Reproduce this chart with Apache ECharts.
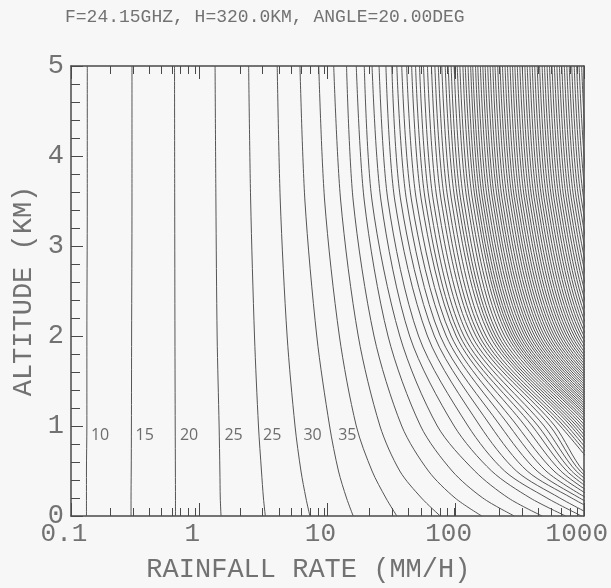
<!DOCTYPE html>
<html><head><meta charset="utf-8">
<script src="https://cdn.jsdelivr.net/npm/echarts@6/dist/echarts.min.js"></script>
<style>html,body{margin:0;padding:0;background:#f7f7f7}#c{width:611px;height:588px}</style>
</head><body><div id="c"></div>
<script>
// altitude (km) of each sample, top to bottom
const altitudes = [5, 3.5, 2, 1, 0.5, 0.2, 0];

// rainfall rate (mm/h) of each contour at those altitudes
const labelledContours = [
  [0.134, 0.134, 0.133, 0.133, 0.132, 0.132, 0.132],
  [0.299, 0.299, 0.297, 0.296, 0.295, 0.294, 0.294],
  [0.642, 0.644, 0.647, 0.650, 0.652, 0.653, 0.653],
  [1.33, 1.35, 1.38, 1.43, 1.45, 1.46, 1.48],
  [2.43, 2.52, 2.70, 2.90, 3.06, 3.17, 3.28],
  [4.06, 4.29, 4.85, 5.59, 6.22, 6.80, 7.30],
  [6.11, 6.68, 8.26, 10.4, 12.2, 14.1, 15.9]
];
const middleContours = [
  [8.56, 9.52, 12.4, 16.8, 22.3, 28.6, 34.8],
  [11.2, 12.7, 17.4, 25.7, 36.7, 54.2, 75.9],
  [14.1, 15.9, 23.1, 38.0, 61.4, 99.1, 160],
  [16.8, 19.4, 29.7, 53.3, 94.0, 163, 287],
  [19.4, 22.3, 36.7, 72.0, 141, 258, 473],
  [22.3, 26.2, 43.8, 97.4, 191, 382, 723],
  [25.3, 29.7, 51.4, 125, 241, 516, 961],
  [28.6, 33.6, 60.3, 155, 298, 650, 1190],
  [31.8, 37.4, 68.3, 188, 362, 804, 1470],
  [34.8, 41.5, 75.9, 224, 432, 927, 1700],
  [38.0, 45.4, 84.5, 263, 507, 1050],
  [41.5, 49.6, 92.3, 303, 585, 1190],
  [45.4, 54.2, 101, 349, 662, 1300],
  [48.7, 58.2, 108, 396, 737, 1420],
  [52.3, 62.5, 116, 440, 804, 1550],
  [56.2, 67.1, 125, 490, 872, 1700],
  [60.3, 72.0, 134, 545, 936, 1850],
  [64.8, 77.3, 144, 595, 996, 1950]
];
const denseContours = [
  [68.9, 82.3, 153, 656, 1288],
  [73.3, 87.6, 163, 698, 1370],
  [78.0, 93.2, 173, 743, 1458],
  [83.0, 99.1, 185, 791, 1551],
  [87.6, 104.5, 195, 834, 1636],
  [92.3, 110, 205, 880, 1726],
  [97.4, 116, 216, 927, 1820],
  [103, 123, 228, 978, 1920],
  [108, 129, 241, 1031, 2025],
  [114, 136, 254, 1088, 2136],
  [119, 143, 266, 1137, 2233],
  [125, 149, 278, 1200, 2335],
  [131, 156, 290, 1254, 2441],
  [136, 163, 303, 1311, 2552],
  [143, 170, 317, 1371, 2668],
  [149, 178, 331, 1433, 2789],
  [156, 186, 347, 1498, 2916],
  [163, 195, 362, 1566, 3048],
  [170, 203, 379, 1637, 3186],
  [178, 213, 396, 1711, 3331],
  [186, 222, 414, 1789, 3482],
  [195, 232, 433, 1870, 3640],
  [203, 243, 452, 1955, 3805],
  [213, 254, 473, 2044, 3978],
  [222, 266, 494, 2137, 4158],
  [232, 278, 517, 2234, 4347],
  [243, 290, 540, 2335, 4544],
  [254, 303, 565, 2441, 4746],
  [266, 317, 590, 2552, 4962],
  [278, 331, 617, 2668, 5186],
  [290, 347, 645, 2789, 5422],
  [303, 362, 674, 2916, 5668],
  [317, 379, 705, 3048, 5925],
  [331, 396, 737, 3186, 6194],
  [347, 414, 770, 3331, 6475],
  [362, 433, 805, 3482, 6768],
  [379, 452, 842, 3640, 7075],
  [396, 473, 880, 3805, 7396],
  [414, 494, 920, 3978, 7732],
  [433, 517, 962, 4158, 8082],
  [452, 540, 1005, 4347, 8449],
  [473, 565, 1050, 4544, 8833],
  [494, 590, 1098, 4746, 9233],
  [517, 617, 1148, 4962, 9652],
  [540, 645, 1200, 5186, 10090],
  [565, 674, 1254, 5422, 10550],
  [590, 705, 1311, 5668, 11030],
  [617, 737, 1371, 5925, 11530],
  [645, 770, 1433, 6194, 12050],
  [674, 805, 1498, 6475, 12600],
  [705, 842, 1566, 6768, 13170],
  [737, 880, 1637, 7075, 13760],
  [770, 920, 1711, 7396, 14390],
  [805, 962, 1789, 7732, 15040],
  [842, 1005, 1870, 8082, 15720],
  [880, 1050, 1955, 8449, 16440],
  [920, 1098, 2044, 8833, 17180],
  [962, 1148, 2137, 9233, 17960]
];

const contourLabels = ['10', '15', '20', '25', '25', '30', '35'];
const contourLabelRates = [0.132, 0.294, 0.653, 1.45, 2.90, 6.00, 11.2];
const contourLabelAltitude = 0.9;

const xMajorTicks = [0.1, 1, 10, 100, 1000];
const xTickLabels = ['0.1', '1', '10', '100', '1000'];
const xMinorTicks = [0.2, 0.3, 0.4, 0.5, 0.6, 0.7, 0.8, 0.9,
  2, 3, 4, 5, 6, 7, 8, 9, 20, 30, 40, 50, 60, 70, 80, 90,
  200, 300, 400, 500, 600, 700, 800, 900];
const yTickLabels = ['0', '1', '2', '3', '4', '5'];

const titleText = 'F=24.15GHZ, H=320.0KM, ANGLE=20.00DEG';
const xName = 'RAINFALL RATE (MM/H)';
const yName = 'ALTITUDE (KM)';

const mono = 'Liberation Mono';
const axisColor = '#4a4a4a';
const textColor = '#727272';
const lineColor = '#555555';

const gridRect = {left: 71, right: 21, top: 66, bottom: 72};

const series = [];
[...labelledContours, ...middleContours, ...denseContours].forEach(c => {
  series.push({
    type: 'line', xAxisIndex: 0, yAxisIndex: 0,
    data: c.map((r, i) => [r, altitudes[i]]),
    showSymbol: false, symbol: 'none', smooth: 0.3, clip: true, silent: true,
    lineStyle: {color: lineColor, width: 1}
  });
});
series.push({
  type: 'scatter', xAxisIndex: 0, yAxisIndex: 0,
  data: contourLabelRates.map((r, i) => ({value: [r, contourLabelAltitude], name: contourLabels[i]})),
  symbolSize: 1, itemStyle: {color: 'rgba(0,0,0,0)'}, silent: true,
  label: {show: true, position: 'right', distance: 4, formatter: p => p.name,
    fontFamily: 'Open Sans', fontSize: 16, color: '#4a4a4a'}
});

function labelFor(v) {
  const i = xMajorTicks.findIndex(t => Math.abs(Math.log10(t) - Math.log10(v)) < 1e-6);
  return i >= 0 ? xTickLabels[i] : '';
}

const option = {
  backgroundColor: '#f7f7f7',
  animation: false,
  title: {text: titleText, left: 60, top: 3,
    textStyle: {fontFamily: mono, fontSize: 18, fontWeight: 'normal', color: textColor}},
  grid: [Object.assign({}, gridRect), Object.assign({}, gridRect)],
  xAxis: [
    {gridIndex: 0, type: 'log', logBase: 10, min: 0.1, max: 1000, position: 'bottom',
      axisLine: {show: true, onZero: false, lineStyle: {color: axisColor, width: 1.5}},
      axisTick: {show: true, inside: true, length: 13, customValues: xMajorTicks, lineStyle: {color: axisColor, width: 1}},
      axisLabel: {show: true, customValues: xMajorTicks, formatter: labelFor, margin: 5,
        fontFamily: mono, fontSize: 26, color: textColor, padding: [0, 14, 0, 0]},
      splitLine: {show: false},
      name: xName, nameLocation: 'middle', nameGap: 40,
      nameTextStyle: {fontFamily: mono, fontSize: 27, color: textColor, padding: [0, 38, 0, 0]}},
    {gridIndex: 0, type: 'log', logBase: 10, min: 0.1, max: 1000, position: 'top',
      axisLine: {show: true, onZero: false, lineStyle: {color: axisColor, width: 1.5}},
      axisTick: {show: true, inside: true, length: 13, customValues: xMajorTicks, lineStyle: {color: axisColor, width: 1}},
      axisLabel: {show: false}, splitLine: {show: false}},
    {gridIndex: 1, type: 'log', logBase: 10, min: 0.1, max: 1000, position: 'bottom',
      axisLine: {show: false, onZero: false},
      axisTick: {show: true, inside: true, length: 8, customValues: xMinorTicks, lineStyle: {color: axisColor, width: 1}},
      axisLabel: {show: false}, splitLine: {show: false}},
    {gridIndex: 1, type: 'log', logBase: 10, min: 0.1, max: 1000, position: 'top',
      axisLine: {show: false, onZero: false},
      axisTick: {show: true, inside: true, length: 8, customValues: xMinorTicks, lineStyle: {color: axisColor, width: 1}},
      axisLabel: {show: false}, splitLine: {show: false}}
  ],
  yAxis: [
    {gridIndex: 0, type: 'value', min: 0, max: 5, interval: 1, position: 'left',
      axisLine: {show: true, onZero: false, lineStyle: {color: axisColor, width: 1.5}},
      axisTick: {show: true, inside: true, length: 12, lineStyle: {color: axisColor, width: 1}},
      axisLabel: {show: true, margin: 7, fontFamily: mono, fontSize: 27, color: textColor,
        formatter: v => yTickLabels[Math.round(v)]},
      splitLine: {show: false},
      name: yName, nameLocation: 'middle', nameGap: 34,
      nameTextStyle: {fontFamily: mono, fontSize: 27, color: textColor}},
    {gridIndex: 0, type: 'value', min: 0, max: 5, interval: 1, position: 'right',
      axisLine: {show: true, onZero: false, lineStyle: {color: axisColor, width: 1.5}},
      axisTick: {show: false}, axisLabel: {show: false}, splitLine: {show: false}},
    {gridIndex: 1, type: 'value', min: 0, max: 5, interval: 0.2, position: 'left',
      axisLine: {show: false, onZero: false},
      axisTick: {show: true, inside: true, length: 9, lineStyle: {color: axisColor, width: 1}},
      axisLabel: {show: false}, splitLine: {show: false}}
  ],
  series: series
};

const chart = echarts.init(document.getElementById('c'));
chart.setOption(option);
</script>
</body></html>
